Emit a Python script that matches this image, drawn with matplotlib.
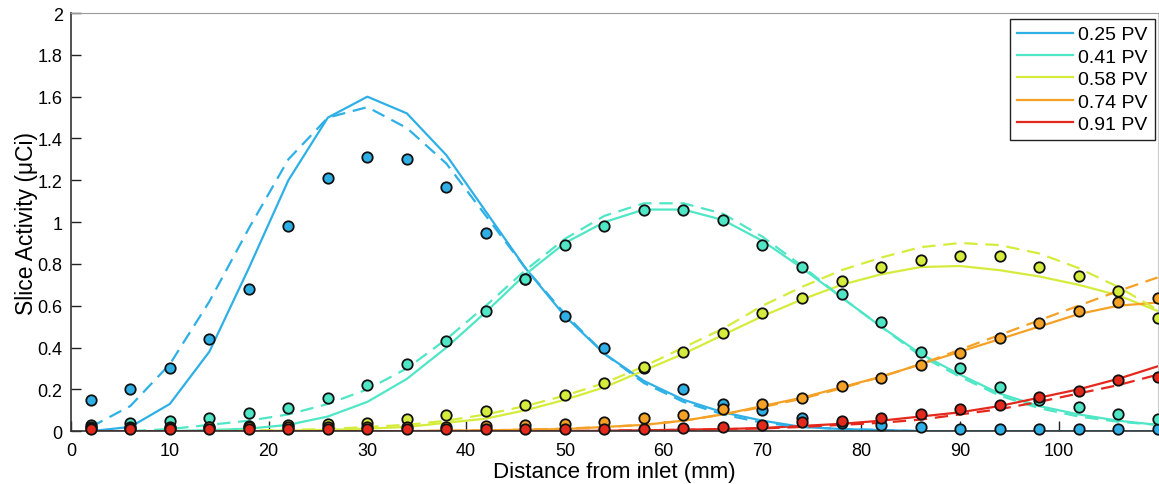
import numpy as np
import matplotlib
matplotlib.use("Agg")
import matplotlib.pyplot as plt

x = [2, 6, 10, 14, 18, 22, 26, 30, 34, 38, 42, 46, 50, 54, 58, 62, 66, 70,
     74, 78, 82, 86, 90, 94, 98, 102, 106, 110]

labels = ["0.25 PV", "0.41 PV", "0.58 PV", "0.74 PV", "0.91 PV"]
colors = ["#2eb0e6", "#4fe6c6", "#d6ec3c", "#f5a125", "#e5281c"]

# measured points
pts_025 = [0.15, 0.20, 0.30, 0.44, 0.68, 0.98, 1.21, 1.31, 1.30, 1.17, 0.95, 0.73, 0.55, 0.40,
           0.30, 0.20, 0.13, 0.10, 0.065, 0.04, 0.03, 0.02, 0.01, 0.01, 0.01, 0.01, 0.01, 0.01]
pts_041 = [0.03, 0.04, 0.05, 0.065, 0.085, 0.11, 0.16, 0.22, 0.32, 0.43, 0.575, 0.73, 0.89, 0.98,
           1.06, 1.06, 1.01, 0.89, 0.785, 0.655, 0.52, 0.38, 0.30, 0.21, 0.15, 0.115, 0.08, 0.06]
pts_058 = [0.02, 0.02, 0.02, 0.02, 0.025, 0.03, 0.035, 0.04, 0.057, 0.077, 0.097, 0.126, 0.172, 0.23,
           0.305, 0.38, 0.47, 0.565, 0.635, 0.72, 0.786, 0.818, 0.84, 0.84, 0.786, 0.74, 0.67, 0.54]
pts_074 = [0.015, 0.015, 0.015, 0.02, 0.02, 0.02, 0.02, 0.02, 0.02, 0.02, 0.025, 0.03, 0.035, 0.045,
           0.065, 0.078, 0.105, 0.13, 0.16, 0.215, 0.253, 0.316, 0.373, 0.445, 0.517, 0.574, 0.62, 0.636]
pts_091 = [0.01, 0.01, 0.01, 0.01, 0.01, 0.01, 0.01, 0.01, 0.01, 0.01, 0.01, 0.01, 0.01, 0.01,
           0.01, 0.015, 0.02, 0.03, 0.043, 0.05, 0.065, 0.08, 0.105, 0.124, 0.165, 0.19, 0.245, 0.26]

# model curves (solid)
sol_025 = [0.0, 0.02, 0.13, 0.38, 0.78, 1.20, 1.50, 1.60, 1.52, 1.32, 1.05, 0.78, 0.55, 0.37,
           0.24, 0.15, 0.09, 0.05, 0.02, 0.01, 0.005, 0.0, 0.0, 0.0, 0.0, 0.0, 0.0, 0.0]
sol_041 = [0.0, 0.0, 0.0, 0.005, 0.012, 0.03, 0.07, 0.14, 0.25, 0.40, 0.57, 0.75, 0.90, 1.00,
           1.06, 1.06, 1.01, 0.91, 0.78, 0.64, 0.50, 0.37, 0.27, 0.18, 0.12, 0.08, 0.05, 0.03]
sol_058 = [0.0, 0.0, 0.0, 0.0, 0.0, 0.003, 0.006, 0.012, 0.02, 0.04, 0.06, 0.10, 0.15, 0.21,
           0.29, 0.37, 0.46, 0.55, 0.63, 0.70, 0.75, 0.785, 0.79, 0.77, 0.74, 0.70, 0.65, 0.575]
sol_074 = [0.0, 0.0, 0.0, 0.0, 0.0, 0.0, 0.0, 0.0, 0.0, 0.002, 0.004, 0.007, 0.01, 0.02,
           0.03, 0.05, 0.08, 0.12, 0.16, 0.21, 0.26, 0.32, 0.38, 0.44, 0.50, 0.56, 0.60, 0.615]
sol_091 = [0.0, 0.0, 0.0, 0.0, 0.0, 0.0, 0.0, 0.0, 0.0, 0.0, 0.0, 0.0, 0.0, 0.002,
           0.004, 0.007, 0.01, 0.015, 0.025, 0.035, 0.05, 0.07, 0.09, 0.12, 0.16, 0.20, 0.25, 0.31]

# model curves (dashed)
das_025 = [0.02, 0.12, 0.32, 0.62, 0.97, 1.30, 1.50, 1.55, 1.45, 1.28, 1.03, 0.78, 0.56, 0.37,
           0.23, 0.14, 0.08, 0.04, 0.02, 0.01, 0.005, 0.0, 0.0, 0.0, 0.0, 0.0, 0.0, 0.0]
das_041 = [0.0, 0.0, 0.01, 0.03, 0.05, 0.08, 0.13, 0.20, 0.30, 0.44, 0.60, 0.77, 0.92, 1.03,
           1.09, 1.09, 1.04, 0.93, 0.79, 0.64, 0.50, 0.36, 0.26, 0.17, 0.11, 0.07, 0.045, 0.03]
das_058 = [0.0, 0.0, 0.0, 0.0, 0.003, 0.006, 0.01, 0.02, 0.03, 0.05, 0.08, 0.12, 0.17, 0.23,
           0.31, 0.40, 0.49, 0.60, 0.69, 0.77, 0.83, 0.88, 0.90, 0.89, 0.85, 0.78, 0.69, 0.58]
das_074 = [0.0, 0.0, 0.0, 0.0, 0.0, 0.0, 0.0, 0.0, 0.0, 0.002, 0.004, 0.007, 0.012, 0.02,
           0.03, 0.05, 0.08, 0.115, 0.155, 0.205, 0.26, 0.32, 0.39, 0.46, 0.53, 0.60, 0.67, 0.735]
das_091 = [0.0, 0.0, 0.0, 0.0, 0.0, 0.0, 0.0, 0.0, 0.0, 0.0, 0.0, 0.0, 0.0, 0.002,
           0.004, 0.006, 0.009, 0.013, 0.02, 0.03, 0.04, 0.055, 0.08, 0.105, 0.14, 0.18, 0.22, 0.27]

points = [pts_025, pts_041, pts_058, pts_074, pts_091]
solids = [sol_025, sol_041, sol_058, sol_074, sol_091]
dashes = [das_025, das_041, das_058, das_074, das_091]

plt.rcParams['font.family'] = ['Liberation Sans', 'DejaVu Sans']

fig = plt.figure(figsize=(11.59, 4.85), dpi=100)
ax = fig.add_axes([0.0613, 0.109, 0.9375, 0.862])

handles = []
for s, c, lab in zip(solids, colors, labels):
    h, = ax.plot(x, s, '-', color=c, lw=1.6, label=lab, zorder=2)
    handles.append(h)
for d, c in zip(dashes, colors):
    ax.plot(x, d, '--', color=c, lw=1.6, dashes=(6, 3.5), zorder=2)
for p, c in zip(points, colors):
    ax.plot(x, p, 'o', color=c, markersize=7.5, markeredgecolor='#111111',
            markeredgewidth=1.3, linestyle='none', zorder=3, clip_on=False)

ax.set_xlim(0, 110)
ax.set_ylim(0, 2)
ax.set_xticks(range(0, 101, 10))
yt = [0, 0.2, 0.4, 0.6, 0.8, 1, 1.2, 1.4, 1.6, 1.8, 2]
ax.set_yticks(yt)
ax.set_yticklabels([("%g" % v) for v in yt])
ax.tick_params(direction='in', length=7, width=1, labelsize=13, colors='#222222',
               labelcolor='black')
ax.tick_params(axis='x', pad=8)
ax.tick_params(axis='y', pad=6)
for side in ['left', 'bottom']:
    ax.spines[side].set_color('#333333')
    ax.spines[side].set_linewidth(1.2)
ax.spines['top'].set_color('#999999')
ax.spines['right'].set_color('#cccccc')

ax.set_xlabel('Distance from inlet (mm)', fontsize=16, labelpad=1)
ax.set_ylabel('Slice Activity (\u03bcCi)', fontsize=16.5, labelpad=0)

leg = ax.legend(handles=handles, loc='upper right', fontsize=14, handlelength=2.9,
                handletextpad=0.25, labelspacing=0.25, borderpad=0.35, borderaxespad=0,
                fancybox=False, framealpha=1, edgecolor='#222222',
                bbox_to_anchor=(0.9972, 0.986))
leg.get_frame().set_linewidth(1.0)

fig.savefig('out.png', dpi=100)
